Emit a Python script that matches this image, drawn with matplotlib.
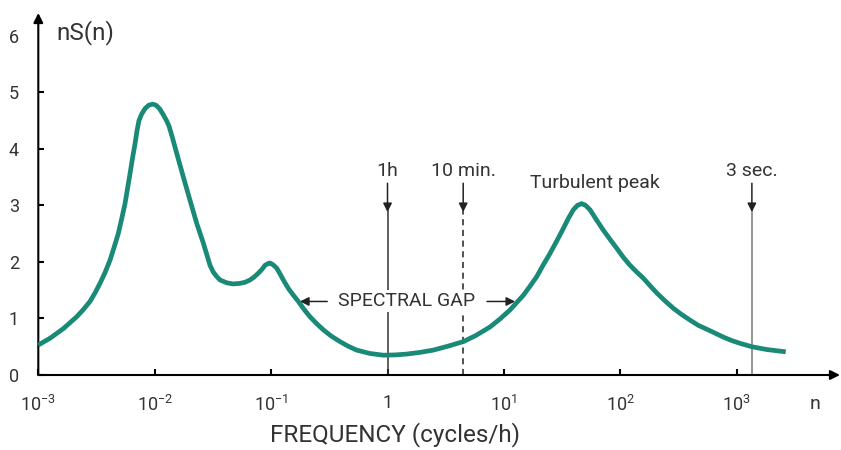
import numpy as np
import matplotlib
matplotlib.use("Agg")
import matplotlib.pyplot as plt

plt.rcParams['font.family'] = ['Roboto', 'DejaVu Sans']
plt.rcParams['font.weight'] = 'normal'
plt.rcParams['mathtext.fontset'] = 'custom'
plt.rcParams['mathtext.rm'] = 'Roboto'
plt.rcParams['mathtext.it'] = 'Roboto'

# spectrum read as log10(frequency in cycles/h) and nS(n)
log_freq = [-3.000, -2.899, -2.785, -2.670, -2.616, -2.556, -2.513, -2.470,
            -2.427, -2.384, -2.350, -2.313, -2.285, -2.255, -2.234, -2.212,
            -2.191, -2.169, -2.152, -2.135, -2.113, -2.083, -2.051, -2.017,
            -1.989, -1.959, -1.926, -1.899, -1.877, -1.851, -1.811, -1.754,
            -1.697, -1.639, -1.582, -1.525, -1.497, -1.467, -1.439, -1.381,
            -1.327, -1.267, -1.224, -1.181, -1.147, -1.110, -1.078, -1.052,
            -1.027, -1.009, -0.984, -0.952, -0.924, -0.895, -0.852, -0.812,
            -0.766, -0.717, -0.666, -0.610, -0.552, -0.485, -0.408, -0.339,
            -0.265, -0.150, -0.036, 0.064, 0.165, 0.279, 0.393, 0.520,
            0.651, 0.760, 0.881, 0.966, 1.052, 1.167, 1.224, 1.282,
            1.336, 1.396, 1.454, 1.510, 1.551, 1.596, 1.632, 1.668,
            1.701, 1.740, 1.796, 1.854, 1.911, 1.969, 2.026, 2.083,
            2.141, 2.198, 2.255, 2.313, 2.384, 2.455, 2.526, 2.599,
            2.668, 2.742, 2.814, 2.885, 2.955, 3.028, 3.129, 3.258,
            3.421]
nS = [0.53, 0.65, 0.82, 1.03, 1.15, 1.30, 1.45, 1.62,
      1.81, 2.03, 2.25, 2.50, 2.75, 3.03, 3.29, 3.56,
      3.83, 4.09, 4.32, 4.50, 4.61, 4.71, 4.77, 4.79,
      4.77, 4.71, 4.60, 4.50, 4.40, 4.22, 3.92, 3.50,
      3.09, 2.68, 2.33, 1.94, 1.82, 1.74, 1.68, 1.63,
      1.61, 1.62, 1.64, 1.68, 1.73, 1.80, 1.87, 1.94,
      1.97, 1.98, 1.95, 1.89, 1.79, 1.68, 1.53, 1.42,
      1.30, 1.16, 1.03, 0.91, 0.80, 0.69, 0.59, 0.51,
      0.44, 0.38, 0.35, 0.355, 0.37, 0.40, 0.44, 0.51,
      0.59, 0.70, 0.85, 0.99, 1.15, 1.41, 1.57, 1.74,
      1.94, 2.15, 2.37, 2.59, 2.76, 2.92, 3.00, 3.03,
      3.00, 2.92, 2.74, 2.56, 2.40, 2.24, 2.08, 1.94,
      1.82, 1.71, 1.58, 1.45, 1.31, 1.18, 1.07, 0.97,
      0.88, 0.81, 0.74, 0.67, 0.61, 0.56, 0.50, 0.45,
      0.41]

# time-scale markers: label, log10(frequency), line style
marker_labels = ['1h', '10 min.', '3 sec.']
marker_logf = [0.0, 0.65, 3.13]
marker_styles = ['-', '--', '-']
marker_colors = ['#333333', '#222222', '#777777']

xtick_exp = [-3, -2, -1, 0, 1, 2, 3]
xtick_labels = [r'$\mathregular{10^{-3}}$', r'$\mathregular{10^{-2}}$',
                r'$\mathregular{10^{-1}}$', '1', r'$\mathregular{10^{1}}$',
                r'$\mathregular{10^{2}}$', r'$\mathregular{10^{3}}$']
yticks = [0, 1, 2, 3, 4, 5, 6]

freq = 10.0 ** np.array(log_freq)
text_col = '#333333'
white_box = dict(facecolor='white', edgecolor='none', pad=1.5)

fig = plt.figure(figsize=(8.41, 4.5), dpi=100)
ax = fig.add_axes([38.3 / 841, 75 / 450, (840 - 38.3) / 841, 362 / 450])
ax.set_xscale('log')
ax.set_xlim(1e-3, 10 ** 3.887)
ax.set_ylim(0, 6.40)

for s in ax.spines.values():
    s.set_visible(False)

# axes drawn as arrows
ax.annotate('', xy=(1, 0), xytext=(0, 0), xycoords='axes fraction',
            arrowprops=dict(arrowstyle='-|>', color='black', lw=1.5,
                            mutation_scale=14, shrinkA=0, shrinkB=0))
ax.annotate('', xy=(0, 1), xytext=(0, 0), xycoords='axes fraction',
            arrowprops=dict(arrowstyle='-|>', color='black', lw=1.5,
                            mutation_scale=14, shrinkA=0, shrinkB=0))

ax.set_xticks([10.0 ** e for e in xtick_exp])
ax.set_xticklabels(xtick_labels)
ax.minorticks_off()
ax.set_yticks(yticks)
ax.set_yticklabels([str(v) for v in yticks])
ax.tick_params(axis='x', direction='in', length=4, width=1.5, pad=14,
               labelsize=13, labelcolor=text_col)
ax.tick_params(axis='y', direction='in', length=4, width=1.5, pad=14,
               labelsize=13, labelcolor=text_col)
ax.yaxis.get_major_ticks()[-1].tick1line.set_visible(False)

ax.plot(freq, nS, color='#1a8a78', lw=3.4, solid_joinstyle='round',
        solid_capstyle='butt', zorder=3)

# vertical time-scale markers with arrows
for lab, lf, ls, col in zip(marker_labels, marker_logf, marker_styles, marker_colors):
    f = 10.0 ** lf
    ax.plot([f, f], [0, 2.90], ls=ls, color=col, lw=1.1, zorder=2,
            dashes=(4, 3) if ls == '--' else (None, None))
    ax.annotate('', xy=(f, 2.88), xytext=(f, 3.39),
                arrowprops=dict(arrowstyle='-|>', color='#222222', lw=1.1,
                                mutation_scale=13, shrinkA=0, shrinkB=0))
    ax.text(f, 3.60, lab, ha='center', va='center', fontsize=14,
            color=text_col)

ax.text(10 ** 1.782, 3.40, 'Turbulent peak', ha='center', va='center',
        fontsize=14, color=text_col)

# spectral gap annotation
ax.text(10 ** 0.163, 1.31, 'SPECTRAL GAP', ha='center', va='center',
        fontsize=14, color=text_col, bbox=white_box, zorder=4)
ax.annotate('', xy=(10 ** -0.752, 1.30), xytext=(10 ** -0.518, 1.30),
            arrowprops=dict(arrowstyle='-|>', color='#222222', lw=1.1,
                            mutation_scale=13, shrinkA=0, shrinkB=0))
ax.annotate('', xy=(10 ** 1.096, 1.30), xytext=(10 ** 0.855, 1.30),
            arrowprops=dict(arrowstyle='-|>', color='#222222', lw=1.1,
                            mutation_scale=13, shrinkA=0, shrinkB=0))

fig.text(85 / 841, 1 - 33 / 450, 'nS(n)', ha='center', va='center',
         fontsize=17.5, color=text_col)
fig.text(815 / 841, 1 - 404 / 450, 'n', ha='center', va='center',
         fontsize=14, color=text_col)
fig.text(395 / 841, 1 - 435 / 450, 'FREQUENCY (cycles/h)', ha='center',
         va='center', fontsize=17.5, color=text_col)

fig.savefig('out.png', dpi=100)
